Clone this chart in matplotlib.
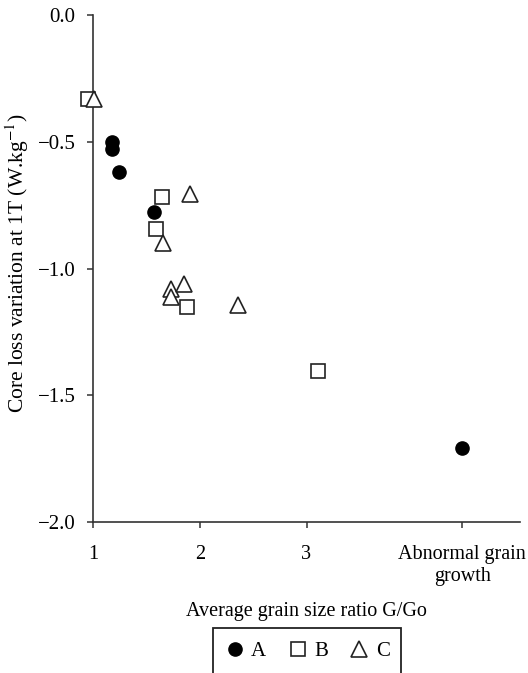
import matplotlib
matplotlib.use("Agg")
import matplotlib.pyplot as plt
from matplotlib.patches import Rectangle

plt.rcParams['font.family'] = ['Liberation Serif', 'DejaVu Serif']
plt.rcParams['mathtext.fontset'] = 'stix'

# Data
a_x = [1.175, 1.175, 1.246, 1.57, 4.46]
a_y = [-0.500, -0.529, -0.621, -0.778, -1.708]
b_x = [0.95, 1.65, 1.586, 1.881, 3.106]
b_y = [-0.331, -0.717, -0.844, -1.153, -1.404]
c_x = [1.01, 1.909, 1.654, 1.726, 1.726, 1.857, 2.358]
c_y = [-0.331, -0.706, -0.899, -1.082, -1.114, -1.061, -1.144]

x_ticks = [1, 2, 3, 4.46]
x_ticklabels = ['1', '2', '3', 'Abnormal grain\ngrowth']
y_ticks = [0.0, -0.5, -1.0, -1.5, -2.0]
y_ticklabels = ['0.0', '\u22120.5', '\u22121.0', '\u22121.5', '\u22122.0']

W, H = 528, 673
fig = plt.figure(figsize=(W / 100, H / 100), dpi=100)
ax = fig.add_axes([93 / W, 1 - 522 / H, (520 - 93) / W, (522 - 15) / H])

ax.plot(a_x, a_y, 'o', ms=9.5, mfc='black', mec='black', mew=1.0, clip_on=False, label='A', zorder=3)
ax.plot(b_x, b_y, 's', ms=10, mfc='white', mec='#222222', mew=1.2, clip_on=False, label='B', zorder=3)
ax.plot(c_x, c_y, '^', ms=11, mfc='white', mec='#222222', mew=1.2, clip_on=False, label='C', zorder=4)

ax.set_xlim(1, 5)
ax.set_ylim(-2.0, 0.0)
ax.set_xticks(x_ticks)
ax.set_xticklabels(x_ticklabels, fontsize=14.5)
ax.set_yticks(y_ticks)
ax.set_yticklabels(y_ticklabels, fontsize=15)
for s in ['top', 'right']:
    ax.spines[s].set_visible(False)
for s in ['left', 'bottom']:
    ax.spines[s].set_linewidth(1.2)
    ax.spines[s].set_color('#333333')
ax.tick_params(direction='out', length=4.5, width=1.1, color='#333333')
ax.tick_params(axis='y', pad=8)
ax.tick_params(axis='x', pad=12)

ax.set_xlabel('Average grain size ratio G/Go', fontsize=14.5, labelpad=12)
ax.set_ylabel(r'Core loss variation at 1T (W.kg$^{-1}$)', fontsize=15.5)
ax.yaxis.set_label_coords(-0.145, 0.51)

handles, labels = ax.get_legend_handles_labels()
fig.legend(handles, labels, loc='center', bbox_to_anchor=(307 / W, 1 - 651 / H),
           ncol=3, frameon=False, fontsize=15, handletextpad=0.3, columnspacing=1.0,
           handlelength=1.0, borderaxespad=0)
fig.patches.append(Rectangle((213 / W, -0.05), (401 - 213) / W, (1 - 628 / H) + 0.05,
                             transform=fig.transFigure, fill=False, edgecolor='#222222',
                             linewidth=1.3))

fig.savefig('out.png', dpi=100)
